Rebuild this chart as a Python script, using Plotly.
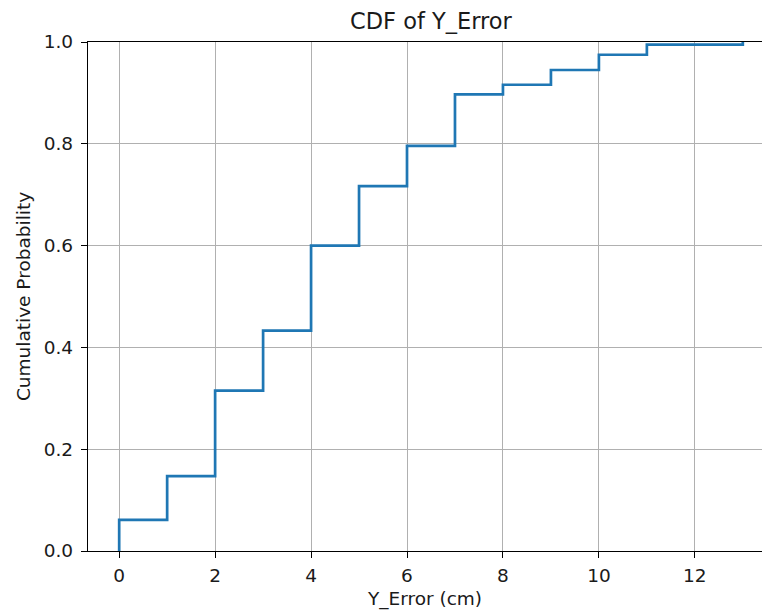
import plotly.graph_objects as go

# Empirical CDF of the Y error (cm): step positions and cumulative probabilities
error_cm = [0, 0, 1, 2, 3, 4, 5, 6, 7, 8, 9, 10, 11, 13]
cum_prob = [0.0, 0.061, 0.147, 0.315, 0.433, 0.600, 0.717, 0.796, 0.897, 0.916, 0.945, 0.975, 0.995, 1.0]

x_ticks = [0, 2, 4, 6, 8, 10, 12]
y_ticks = [0.0, 0.2, 0.4, 0.6, 0.8, 1.0]

FONT = "DejaVu Sans"
TXT = "#1a1a1a"
FS = 18.5

fig = go.Figure()
fig.add_trace(go.Scatter(
    x=error_cm, y=cum_prob, mode="lines",
    line=dict(shape="hv", color="#1f77b4", width=2.7),
    showlegend=False,
))

W, H = 762, 614
L, R, T, B = 88, 0, 42, 63

fig.update_layout(
    width=W, height=H,
    margin=dict(l=L, r=R, t=T, b=B),
    paper_bgcolor="white", plot_bgcolor="white",
    font=dict(family=FONT, size=FS, color=TXT),
    xaxis=dict(
        range=[-0.65, 13.4], tickvals=x_ticks, ticktext=[str(v) for v in x_ticks],
        showgrid=True, gridcolor="#b0b0b0", gridwidth=1.4,
        showline=True, linecolor="black", linewidth=1.4, mirror=True,
        ticks="outside", ticklen=6, tickwidth=1.4, tickcolor="black",
        ticklabelstandoff=2,
        zeroline=False,
        title=dict(text="Y_Error (cm)", font=dict(size=FS), standoff=6),
    ),
    yaxis=dict(
        range=[0, 1], tickvals=y_ticks, ticktext=[f"{v:.1f}" for v in y_ticks],
        showgrid=True, gridcolor="#b0b0b0", gridwidth=1.4,
        showline=True, linecolor="black", linewidth=1.4, mirror=False,
        ticks="outside", ticklen=6, tickwidth=1.4, tickcolor="black",
        ticklabelstandoff=4,
        zeroline=False,
        title=dict(text="Cumulative Probability", font=dict(size=FS), standoff=8),
    ),
    annotations=[dict(
        text="CDF of Y_Error", xref="paper", yref="paper",
        x=(431 - L) / (W - L - R), y=1, xanchor="center", yanchor="bottom",
        yshift=6, showarrow=False, font=dict(size=22.5, color=TXT, family=FONT),
    )],
)

fig.write_html("out.html")
